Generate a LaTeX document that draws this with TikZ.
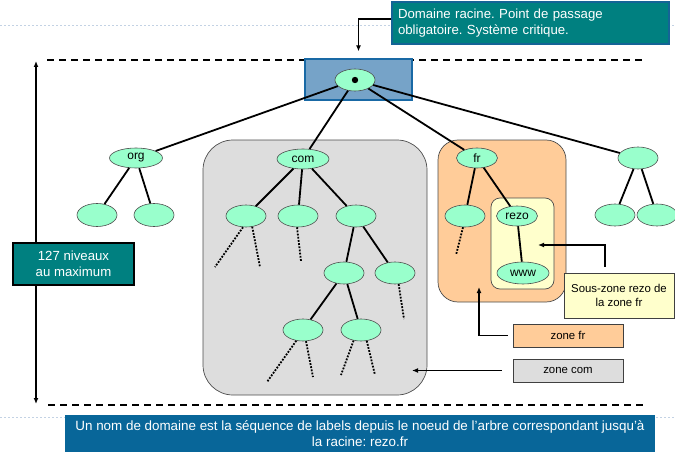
\documentclass[tikz,border=0pt]{standalone}
\usepackage{fontspec}
\setmainfont{Liberation Sans}
\usetikzlibrary{shapes.geometric,arrows.meta}
\frenchspacing

\definecolor{mint}{RGB}{153,255,204}
\definecolor{zgray}{RGB}{221,221,221}
\definecolor{zorange}{RGB}{255,204,153}
\definecolor{zyellow}{RGB}{255,255,204}
\definecolor{tealbox}{RGB}{0,128,128}
\definecolor{tealedge}{RGB}{20,100,150}
\definecolor{rootfill}{RGB}{118,163,200}
\definecolor{rootedge}{RGB}{25,105,165}
\definecolor{footblue}{RGB}{8,102,153}
\definecolor{rulefaint}{RGB}{195,210,228}

\begin{document}
\begin{tikzpicture}[x=1pt,y=-1pt,
  nd/.style={ellipse, draw=black!70, line width=0.6pt, fill=mint, inner sep=0pt,
             minimum width=40pt, minimum height=22pt, font=\fontsize{12}{14}\selectfont},
  edge/.style={line width=1.8pt},
  dots/.style={line width=1.8pt, dash pattern=on 1.8pt off 1.4pt},
  zone/.style={draw=black!70, line width=0.7pt},
  tag/.style={draw=black!75, line width=0.7pt, inner sep=0pt,
              font=\fontsize{11.4}{13.5}\selectfont, align=center},
  arr/.style={line width=1.4pt, -{Latex[length=6pt,width=5pt]}},
  dashline/.style={line width=1.5pt, dash pattern=on 7pt off 5pt},
  faint/.style={rulefaint, line width=0.8pt, dash pattern=on 2pt off 2pt}]
\useasboundingbox (0,0) rectangle (675,452);

% faint page rules
\coordinate (ftl) at (0,25);   \coordinate (ftr) at (675,25);
\coordinate (fbl) at (0,417);  \coordinate (fbr) at (675,417);
\draw[faint] (ftl) -- (ftr);
\draw[faint] (fbl) -- (fbr);

% zones
\node[zone, fill=zgray, rounded corners=30pt, minimum width=224pt, minimum height=255pt]
  (comzone) at (315,267.5) {};
\node[zone, fill=zorange, rounded corners=20pt, minimum width=128pt, minimum height=162pt]
  (frzone) at (502,221) {};
\node[zone, fill=zyellow, rounded corners=9pt, minimum width=63pt, minimum height=91pt]
  (rezozone) at (522.5,243.5) {};

% level limits
\coordinate (dtl) at (47,60);  \coordinate (dtr) at (643,60);
\coordinate (dbl) at (48,405); \coordinate (dbr) at (643,405);
\draw[dashline] (dtl) -- (dtr);
\draw[dashline] (dbl) -- (dbr);
\coordinate (lvltop) at (36,61);
\coordinate (lvlbot) at (36,404);
\draw[line width=1.4pt, {Latex[length=6pt,width=5pt]}-{Latex[length=6pt,width=5pt]}] (lvltop) -- (lvlbot);

% root
\node[draw=rootedge, line width=1.2pt, fill=rootfill, minimum width=107pt, minimum height=41pt, inner sep=0pt]
  (rootbox) at (358.5,79.5) {};
\node[nd] (root) at (355,80) {};
\fill (root.center) circle (3.2pt);

% top-level domains
\node[nd, minimum width=53pt, minimum height=20pt] (org) at (136,158) {org};
\node[nd, minimum width=52pt, minimum height=20pt] (com) at (303,159) {com};
\node[nd, minimum width=41pt, minimum height=20pt] (fr)  at (477,158) {fr};
\node[nd] (rr) at (638,158) {};

% below org
\node[nd, minimum height=23pt] (o1) at (97,215) {};
\node[nd, minimum height=23pt] (o2) at (154,215) {};

% below com
\node[nd] (c1) at (246,216) {};
\node[nd] (c2) at (298,216) {};
\node[nd] (c3) at (356,216) {};
\node[nd] (c31) at (344,273) {};
\node[nd] (c32) at (395,273) {};
\node[nd] (c311) at (303,330) {};
\node[nd] (c312) at (361,330) {};

% below fr
\node[nd] (f1) at (465,216) {};
\node[nd, minimum width=41pt, minimum height=20pt] (rezo) at (517,216) {rezo};
\node[nd, minimum width=52pt] (www) at (523,273) {www};

% below the last domain
\node[nd] (r1) at (615,215) {};
\node[nd] (r2) at (657,215) {};

% tree edges
\foreach \a/\b in {root/org, root/com, root/fr, root/rr,
                   org/o1, org/o2,
                   com/c1, com/c2, com/c3, c3/c31, c3/c32, c31/c311, c31/c312,
                   fr/f1, fr/rezo, rezo/www, rr/r1, rr/r2}
  \draw[edge] (\a) -- (\b);

% elided subtrees
\coordinate (e1) at (215,267);  \coordinate (e2) at (260,267);
\coordinate (e3) at (301,261);  \coordinate (e4) at (404,319);
\coordinate (e5) at (267,382);  \coordinate (e6) at (313,377);
\coordinate (e7) at (341,375);  \coordinate (e8) at (375,375);
\coordinate (e9) at (456,255);
\draw[dots] (c1.-105) -- (e1);
\draw[dots] (c1.-60) -- (e2);
\draw[dots] (c2.-95) -- (e3);
\draw[dots] (c32.-72) -- (e4);
\draw[dots] (c311.-122) -- (e5);
\draw[dots] (c311.-75) -- (e6);
\draw[dots] (c312.-125) -- (e7);
\draw[dots] (c312.-62) -- (e8);
\draw[dots] (f1.-100) -- (e9);

% annotations
\node[draw=tealedge, line width=1.2pt, fill=tealbox, text=white, minimum width=277pt, minimum height=42pt,
      inner sep=0pt, font=\fontsize{13.2}{16.5}\selectfont, align=left, text width=265pt]
  (callout) at (530.5,23) {Domaine racine. Point de passage\\obligatoire. Système critique.};
\draw[arr] ([yshift=4pt]callout.west) -| ([yshift=7pt]rootbox.north);

\node[draw=black, line width=1.2pt, fill=tealbox, text=white, minimum width=121pt, minimum height=42pt,
      inner sep=0pt, font=\fontsize{13.2}{16}\selectfont, align=center]
  (lvlbox) at (73.5,264) {127 niveaux\\au maximum};

\node[tag, fill=zyellow, minimum width=110pt, minimum height=45pt] (sousbox) at (619,295.5)
  {Sous-zone rezo de\\la zone fr};
\node[tag, fill=zorange, minimum width=110pt, minimum height=23pt] (zonefr) at (568,335.5) {zone fr};
\node[tag, fill=zgray, minimum width=110pt, minimum height=23pt] (zonecom) at (568,370.5) {zone com};

\coordinate (sztip) at (538,245);
\coordinate (fztip) at (479,287);
\coordinate (zctip) at (412,370.5);
\draw[arr] ([xshift=-14pt,yshift=6pt]sousbox.north) |- (sztip);
\draw[arr] ([xshift=-5pt]zonefr.west) -| (fztip);
\draw[arr] ([xshift=-11pt]zonecom.west) -- (zctip);

% footer
\node[fill=footblue, text=white, minimum width=590pt, minimum height=37pt, inner sep=0pt,
      font=\fontsize{13.4}{16}\selectfont, align=center]
  (footer) at (360,433.5)
  {Un nom de domaine est la séquence de labels depuis le noeud de l’arbre correspondant jusqu’à\\la racine: rezo.fr};
\end{tikzpicture}
\end{document}
